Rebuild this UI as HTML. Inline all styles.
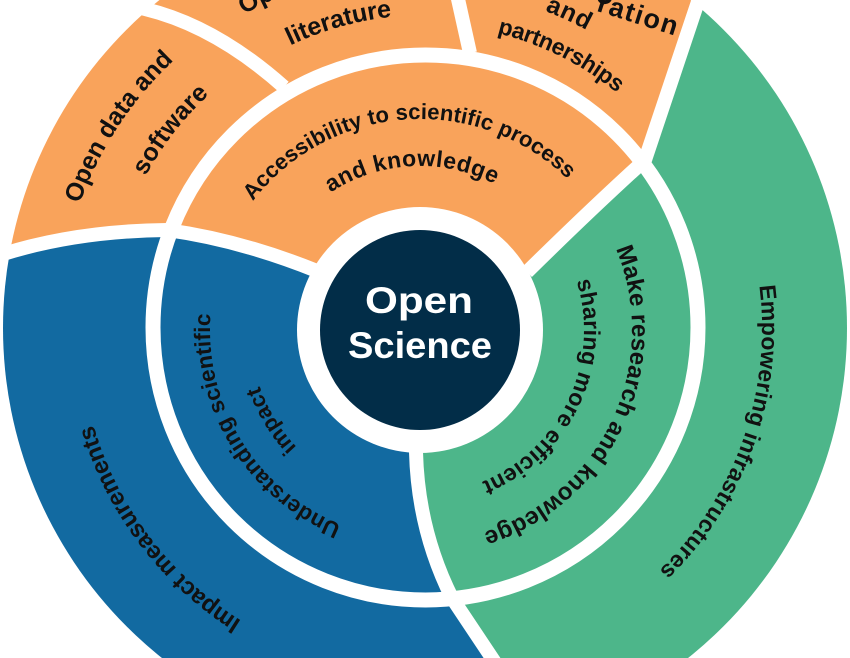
<!DOCTYPE html>
<html><head><meta charset="utf-8"><style>
html,body{margin:0;padding:0;background:#fff;width:850px;height:658px;overflow:hidden;}
svg{display:block;}
.t{font-family:"Liberation Sans",Arial,sans-serif;font-weight:bold;fill:#111;}
</style></head><body>
<svg width="850" height="658" viewBox="0 0 850 658" xmlns="http://www.w3.org/2000/svg">
<defs>
<clipPath id="c"><circle cx="425" cy="328" r="422"/></clipPath>
<path id="t1" d="M 61.84 275.02 A 367 367 0 0 1 232.15 15.75"/>
<path id="t2" d="M 122.40 230.26 A 318 318 0 0 1 256.01 58.62"/>
<path id="t3" d="M 244 14.5 A 362 362 0 0 1 548.81 -12.17"/>
<path id="t4" d="M 241.91 74.14 A 313 313 0 0 1 447.92 15.84"/>
<path id="t5" d="M 582 -90 L 600 12 L 676 36"/>
<path id="t6" d="M 452.19 -9.91 A 339 339 0 0 1 663.03 86.62"/>
<path id="t7" d="M 432.95 24.60 A 303.5 303.5 0 0 1 662.52 139.07"/>
<path id="t8" d="M 230.36 237.50 A 211 211 0 0 1 594.93 212.01"/>
<path id="t9" d="M 298.13 220.26 A 164 164 0 0 1 529.74 208.13"/>
<path id="t10" d="M 390.05 537.85 A 210 210 0 0 1 220.51 264.41"/>
<path id="t11" d="M 338.62 479.26 A 170 170 0 0 1 250.05 334.15"/>
<path id="t12" d="M 593.77 208.55 A 212 212 0 0 1 438.29 541.21"/>
<path id="t13" d="M 562.38 248.62 A 164 164 0 0 1 447.77 491.63"/>
<path id="t14" d="M 740.45 209.43 A 337 337 0 0 1 596.55 618.07"/>
<path id="t15" d="M 318.81 656.77 A 345.5 345.5 0 0 1 79.73 340.66"/>
</defs>

<g clip-path="url(#c)">
  <path fill="#F9A35B" d="M 420 330 L 317 271 Q 240 240 167 230 Q 75 231 0 255 L -60 265 L -60 -120 L 740 -120 L 722 -70 L 645 160 Q 592 208 527 272 Z"/>
  <path fill="#4DB68A" d="M 420 330 L 527 272 Q 592 208 645 160 L 722 -70 L 740 -120 L 900 -120 L 900 760 L 560 760 L 452 598 Q 418 530 416 452 Z"/>
  <path fill="#126AA1" d="M 420 330 L 416 452 Q 418 530 452 598 L 560 760 L -60 760 L -60 265 L 0 255 Q 75 231 167 230 Q 240 240 317 271 Z"/>
</g>

<g fill="none" stroke="#fff" stroke-width="14">
  <path d="M -20 258 L 0 255 Q 75 231 167 230"/>
  <path d="M 167 230 Q 240 240 317 271"/>
  <path d="M 722 -70 L 645 160"/>
  <path d="M 645 160 Q 592 208 527 272"/>
  <path d="M 416 452 Q 418 530 452 598"/>
  <path d="M 452 598 L 560 760"/>
  <path d="M 125 4 L 145 9 Q 215.5 26 284 87"/>
  <path d="M 456 -10 L 470 53"/>
</g>
<circle cx="425.5" cy="327.5" r="272.5" fill="none" stroke="#fff" stroke-width="15"/>
<circle cx="420" cy="330" r="123" fill="#fff"/>
<circle cx="420" cy="330" r="100" fill="#022D48"/>

<text class="t" style="fill:#fff" x="419" y="313" font-size="37" text-anchor="middle" textLength="108" lengthAdjust="spacingAndGlyphs">Open</text>
<text class="t" style="fill:#fff" x="420" y="358" font-size="37" text-anchor="middle" textLength="144" lengthAdjust="spacingAndGlyphs">Science</text>

<text class="t" font-size="25"><textPath href="#t1" startOffset="50%" text-anchor="middle" textLength="173">Open data and</textPath></text>
<text class="t" font-size="25"><textPath href="#t2" startOffset="50%" text-anchor="middle" textLength="104">software</textPath></text>
<text class="t" font-size="25"><textPath href="#t3" startOffset="0">Open access to</textPath></text>
<text class="t" font-size="25"><textPath href="#t4" startOffset="50%" text-anchor="middle" textLength="106">literature</textPath></text>
<text class="t" font-size="27" letter-spacing="1.5"><textPath href="#t5" startOffset="100%" text-anchor="end">Collaboration</textPath></text>
<text class="t" font-size="25"><textPath href="#t6" startOffset="50%" text-anchor="middle" textLength="46">and</textPath></text>
<text class="t" font-size="23"><textPath href="#t7" startOffset="50%" text-anchor="middle" textLength="135">partnerships</textPath></text>
<text class="t" font-size="22"><textPath href="#t8" startOffset="50%" text-anchor="middle" textLength="356">Accessibility to scientific process</textPath></text>
<text class="t" font-size="23"><textPath href="#t9" startOffset="50%" text-anchor="middle" textLength="172">and knowledge</textPath></text>
<text class="t" font-size="22.5"><textPath href="#t10" startOffset="50%" text-anchor="middle" textLength="265">Understanding scientific</textPath></text>
<text class="t" font-size="22"><textPath href="#t11" startOffset="50%" text-anchor="middle" textLength="72">impact</textPath></text>
<text class="t" font-size="24"><textPath href="#t12" startOffset="50%" text-anchor="middle" textLength="352">Make research and knowledge</textPath></text>
<text class="t" font-size="23"><textPath href="#t13" startOffset="50%" text-anchor="middle" textLength="244">sharing more efficient</textPath></text>
<text class="t" font-size="23"><textPath href="#t14" startOffset="50%" text-anchor="middle" textLength="313">Empowering infrastructures</textPath></text>
<text class="t" font-size="24"><textPath href="#t15" startOffset="50%" text-anchor="middle" textLength="251">Impact measurements</textPath></text>
</svg>
</body></html>
